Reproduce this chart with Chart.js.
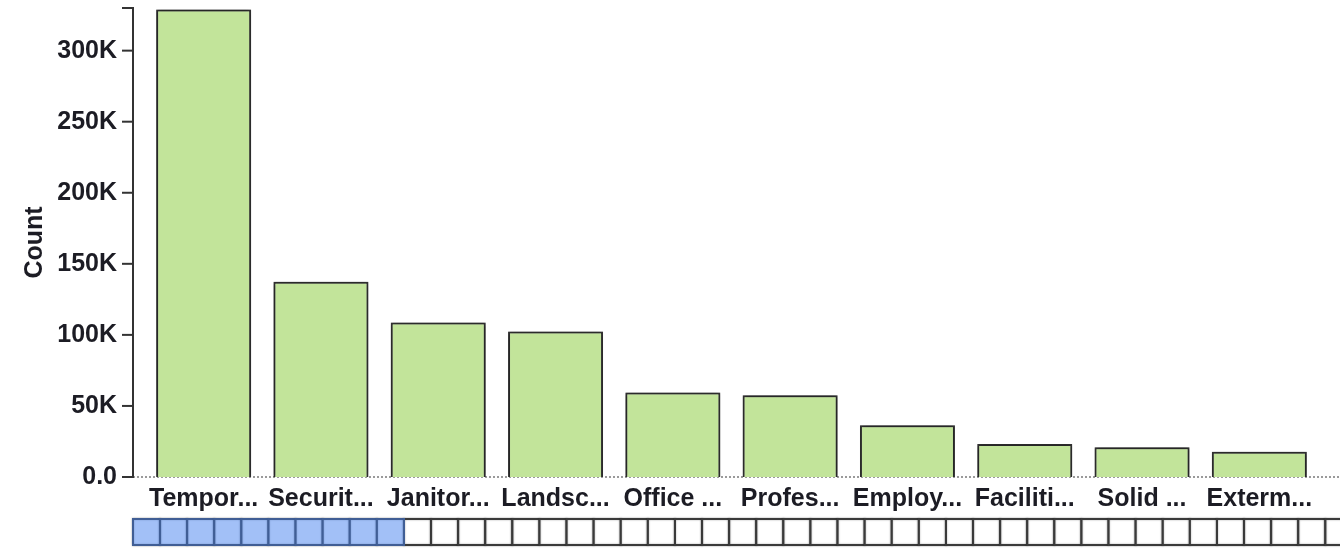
<!DOCTYPE html>
<html>
<head>
<meta charset="utf-8">
<script src="https://cdn.jsdelivr.net/npm/chart.js@4.4.1/dist/chart.umd.min.js"></script>
<style>
    html, body { margin: 0; padding: 0; background: #fff; }
    #wrap { width: 1340px; height: 548px; }
</style>
</head>
<body>
<div id="wrap"><canvas id="chartCount"></canvas></div>
<script>
// dados
const categorias = ['Tempor...', 'Securit...', 'Janitor...', 'Landsc...', 'Office ...',
    'Profes...', 'Employ...', 'Faciliti...', 'Solid ...', 'Exterm...'];
const contagens = [329000, 137300, 108700, 102300, 59400, 57500, 36400, 23200, 20900, 17800];
const ticksY = [0, 50000, 100000, 150000, 200000, 250000, 300000];
const maxY = 330000;

// quantidade de celulas do navegador e quantas estao selecionadas
const totalCelulas = 45;
const celulasSelecionadas = 10;

const fonteBold = { family: 'Arial, "Liberation Sans", sans-serif', size: 25, weight: 'bold' };
const corTexto = '#1c1c24';

// eixo Y com linha deslocada, linha de base pontilhada e navegador embaixo
const eixoPlugin = {
    id: 'eixoPlugin',
    beforeDatasetsDraw(chart) {
        const ctx = chart.ctx;
        const area = chart.chartArea;
        const y = chart.scales.y;
        const xAxis = area.left - 12;

        ctx.save();
        // linha pontilhada de base
        ctx.strokeStyle = '#9a9a9a';
        ctx.lineWidth = 2;
        ctx.setLineDash([2, 2]);
        ctx.beginPath();
        ctx.moveTo(xAxis, y.getPixelForValue(0));
        ctx.lineTo(chart.width, y.getPixelForValue(0));
        ctx.stroke();
        ctx.setLineDash([]);

        // linha do eixo
        ctx.strokeStyle = '#333';
        ctx.lineWidth = 2;
        ctx.beginPath();
        ctx.moveTo(xAxis - 11, area.top);
        ctx.lineTo(xAxis, area.top);
        ctx.lineTo(xAxis, area.bottom);
        ctx.lineTo(xAxis - 11, area.bottom);
        ctx.stroke();
        ticksY.forEach(v => {
            const py = y.getPixelForValue(v);
            ctx.beginPath();
            ctx.moveTo(xAxis - 11, py);
            ctx.lineTo(xAxis, py);
            ctx.stroke();
        });
        ctx.restore();

        // sombra das barras
        ctx.save();
        ctx.shadowColor = 'rgba(0,0,0,0.6)';
        ctx.shadowBlur = 4;
    },
    afterDatasetsDraw(chart) {
        chart.ctx.restore();
    },
    afterDraw(chart) {
        const ctx = chart.ctx;
        const area = chart.chartArea;
        const inicio = area.left - 12;
        const larguraCelula = 27.1;
        const topo = 519;
        const altura = 26;

        ctx.save();
        ctx.shadowColor = 'rgba(0,0,0,0.35)';
        ctx.shadowBlur = 2;
        ctx.strokeStyle = '#3a3a3a';
        ctx.lineWidth = 2;
        ctx.fillStyle = '#fff';
        for (let i = 0; i < totalCelulas; i++) {
            const cx = inicio + i * larguraCelula;
            ctx.fillRect(cx, topo, larguraCelula, altura);
            ctx.strokeRect(cx, topo, larguraCelula, altura);
        }
        ctx.shadowBlur = 0;
        ctx.fillStyle = 'rgba(70, 130, 240, 0.5)';
        ctx.fillRect(inicio - 1, topo - 1, larguraCelula * celulasSelecionadas + 2, altura + 2);
        ctx.restore();
    }
};

const ctx = document.getElementById('chartCount');

new Chart(ctx, {
    type: 'bar',
    data: {
        labels: categorias,
        datasets: [{
            label: 'Count',
            data: contagens,
            backgroundColor: '#c2e49a',
            borderColor: '#333',
            borderWidth: 2,
            categoryPercentage: 0.9,
            barPercentage: 0.9
        }]
    },
    options: {
        responsive: true,
        maintainAspectRatio: false,
        animation: false,
        layout: {
            padding: { top: 8, right: 22, bottom: 27, left: 0 }
        },
        plugins: {
            legend: { display: false },
            tooltip: { enabled: false }
        },
        scales: {
            x: {
                grid: { display: false, drawTicks: false },
                border: { display: false },
                ticks: {
                    color: corTexto,
                    font: fonteBold,
                    padding: 7,
                    maxRotation: 0,
                    autoSkip: false
                }
            },
            y: {
                min: 0,
                max: maxY,
                afterFit(scale) {
                    scale.width = 145;
                    scale.paddingTop = 0;
                    scale.paddingBottom = 0;
                },
                afterBuildTicks(scale) { scale.ticks = ticksY.map(v => ({ value: v })); },
                grid: { display: false, drawTicks: false },
                border: { display: false },
                ticks: {
                    color: corTexto,
                    font: fonteBold,
                    padding: 28,
                    callback: v => v === 0 ? '0.0' : (v / 1000) + 'K'
                },
                title: {
                    display: true,
                    text: 'Count',
                    color: corTexto,
                    font: fonteBold,
                    padding: { top: 20, bottom: 0 }
                }
            }
        }
    },
    plugins: [eixoPlugin]
});
</script>
</body>
</html>
